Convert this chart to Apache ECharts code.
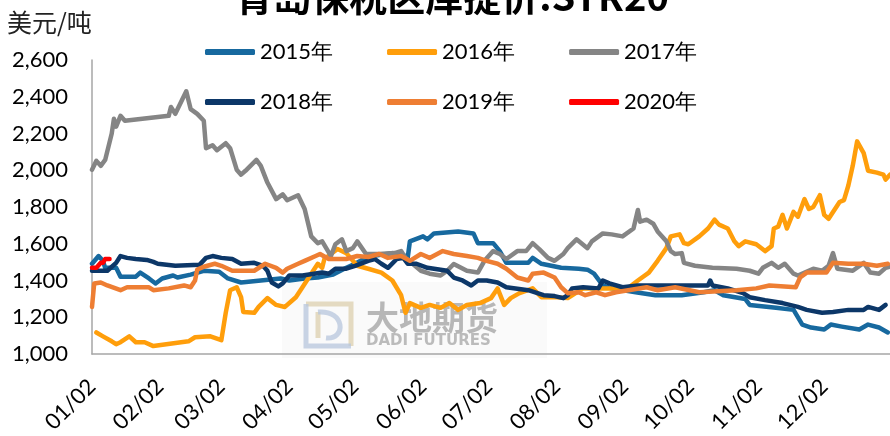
<!DOCTYPE html>
<html>
<head>
<meta charset="utf-8">
<script src="https://cdn.jsdelivr.net/npm/echarts@6/dist/echarts.min.js"></script>
<style>
  html, body { margin: 0; padding: 0; background: #fff; }
  #chart { width: 890px; height: 436px; }
</style>
</head>
<body>
<div id="chart"></div>
<script>
// Qingdao bonded-zone STR20 warehouse price, one line per year.
// x = trading day index counted from Jan 2 (category axis of calendar days).
const titleText = '青岛保税区库提价:STR20';
const unitText = '美元/吨';
const yTicks = { min: 1000, max: 2600, step: 200 };
const seriesNames = ['2015年', '2016年', '2017年', '2018年', '2019年', '2020年'];
const seriesColors = ['#17699F', '#FF9E0B', '#858585', '#0C3768', '#EE7E33', '#FF0000'];

const y2015 = [[0,1491],[3,1533],[5,1507],[6,1469],[11,1469],[13,1421],[20,1421],[22,1443],[26,1411],[29,1384],[32,1411],[37,1427],[39,1416],[45,1432],[51,1453],[58,1448],[62,1411],[68,1389],[77,1400],[86,1411],[90,1400],[97,1411],[103,1416],[110,1432],[116,1469],[120,1491],[124,1517],[128,1533],[137,1549],[142,1539],[144,1523],[145,1613],[151,1640],[153,1624],[156,1656],[167,1667],[174,1656],[176,1603],[183,1603],[186,1560],[189,1496],[199,1496],[201,1523],[205,1491],[214,1469],[222,1464],[226,1459],[229,1437],[233,1373],[237,1357],[248,1336],[257,1320],[269,1320],[279,1336],[284,1347],[288,1320],[298,1299],[300,1267],[312,1251],[320,1240],[324,1160],[328,1144],[334,1133],[337,1160],[342,1149],[350,1133],[354,1160],[359,1144],[363,1117]];

const y2016 = [[2,1117],[5,1096],[9,1069],[11,1053],[13,1064],[17,1096],[20,1064],[24,1064],[28,1043],[44,1069],[47,1091],[54,1096],[59,1075],[61,1224],[63,1347],[66,1363],[68,1309],[69,1229],[74,1224],[76,1256],[80,1304],[84,1267],[88,1256],[93,1309],[96,1363],[100,1437],[103,1491],[105,1469],[106,1517],[109,1544],[112,1571],[116,1549],[121,1480],[126,1464],[132,1443],[137,1400],[141,1320],[143,1224],[145,1277],[150,1251],[154,1267],[159,1251],[163,1277],[167,1240],[171,1267],[177,1277],[182,1304],[185,1357],[188,1267],[191,1304],[195,1331],[201,1357],[205,1309],[212,1309],[217,1304],[224,1357],[239,1357],[245,1363],[249,1400],[254,1443],[258,1507],[262,1576],[264,1640],[268,1651],[270,1603],[272,1597],[277,1640],[281,1683],[284,1731],[286,1704],[290,1683],[293,1613],[295,1587],[298,1613],[303,1597],[307,1560],[310,1587],[311,1683],[313,1693],[315,1757],[317,1683],[320,1773],[322,1747],[325,1843],[327,1789],[329,1800],[332,1864],[334,1757],[336,1736],[341,1827],[343,1837],[345,1917],[347,2024],[349,2157],[352,2093],[354,1997],[358,1987],[361,1976],[362,1949],[364,1976]];

const y2017 = [[0,2003],[2,2051],[4,2024],[6,2056],[9,2200],[10,2280],[11,2237],[13,2296],[15,2269],[35,2296],[36,2344],[38,2307],[43,2430],[45,2333],[48,2307],[51,2269],[52,2120],[55,2136],[57,2109],[61,2147],[63,2120],[66,2003],[68,1976],[70,1997],[75,2056],[77,2024],[80,1933],[84,1843],[87,1869],[89,1837],[94,1864],[97,1789],[100,1640],[103,1603],[105,1613],[109,1533],[111,1597],[114,1624],[116,1560],[119,1576],[121,1613],[125,1544],[131,1544],[138,1549],[141,1560],[143,1523],[150,1453],[154,1437],[159,1427],[162,1453],[165,1490],[171,1453],[176,1443],[179,1507],[183,1560],[186,1544],[189,1517],[194,1560],[198,1560],[201,1603],[204,1571],[208,1523],[211,1507],[215,1544],[217,1576],[221,1624],[226,1576],[228,1613],[233,1656],[237,1651],[242,1640],[247,1683],[249,1784],[250,1720],[253,1731],[256,1709],[258,1667],[262,1613],[264,1560],[266,1544],[269,1549],[270,1496],[275,1480],[283,1469],[294,1464],[300,1453],[304,1437],[306,1469],[310,1496],[313,1469],[316,1491],[320,1437],[322,1427],[329,1464],[333,1453],[336,1480],[338,1549],[340,1464],[347,1453],[352,1496],[355,1443],[359,1437],[362,1469],[364,1475]];

const y2018 = [[0,1453],[7,1453],[11,1496],[13,1533],[16,1523],[20,1517],[25,1512],[28,1501],[30,1491],[38,1480],[49,1485],[52,1523],[55,1533],[59,1523],[64,1517],[68,1491],[74,1496],[78,1480],[80,1453],[82,1389],[85,1368],[87,1384],[90,1427],[96,1427],[105,1443],[108,1437],[111,1464],[116,1464],[120,1480],[126,1507],[129,1517],[132,1491],[135,1469],[139,1517],[142,1523],[144,1491],[148,1491],[153,1469],[162,1453],[165,1416],[169,1400],[173,1373],[176,1400],[180,1400],[185,1389],[189,1363],[199,1347],[206,1320],[211,1315],[215,1304],[217,1320],[219,1357],[224,1363],[231,1357],[233,1400],[236,1384],[242,1363],[249,1373],[265,1373],[281,1373],[282,1400],[283,1373],[290,1357],[297,1331],[300,1309],[307,1293],[315,1277],[322,1256],[326,1240],[333,1224],[338,1229],[345,1240],[352,1240],[354,1256],[359,1240],[362,1267]];

const y2019 = [[0,1256],[1,1384],[4,1389],[7,1373],[13,1347],[16,1363],[26,1363],[28,1347],[35,1357],[42,1373],[45,1363],[47,1400],[48,1459],[51,1475],[56,1491],[59,1480],[64,1453],[74,1453],[79,1491],[84,1469],[87,1443],[89,1464],[94,1491],[97,1507],[102,1533],[104,1544],[108,1517],[116,1517],[121,1533],[126,1528],[131,1544],[135,1523],[141,1533],[145,1507],[150,1544],[154,1523],[160,1560],[165,1544],[171,1533],[176,1523],[180,1507],[185,1491],[189,1464],[194,1416],[199,1400],[201,1437],[206,1443],[211,1416],[214,1363],[217,1331],[222,1336],[225,1320],[230,1336],[234,1320],[239,1336],[253,1363],[258,1347],[266,1363],[277,1336],[294,1347],[303,1357],[309,1373],[321,1363],[323,1416],[326,1443],[335,1443],[338,1496],[345,1491],[352,1491],[358,1480],[363,1491]];

const y2020 = [[0,1469],[2,1469],[4,1496],[5,1496],[6,1517],[8,1517]];

const yearData = [y2015, y2016, y2017, y2018, y2019, y2020];

// Calendar days of a non-leap year, Jan 2 through Jan 1, labelled MM/DD.
const days = [];
for (let i = 0; i < 365; i++) {
  const dt = new Date(Date.UTC(2019, 0, 2 + i));
  const mm = String(dt.getUTCMonth() + 1).padStart(2, '0');
  const dd = String(dt.getUTCDate()).padStart(2, '0');
  days.push(mm + '/' + dd);
}

const baseFont = 'Lato';

const chart = echarts.init(document.getElementById('chart'), null, { renderer: 'canvas' });

const legendCommon = {
  left: 200,
  itemWidth: 50,
  itemHeight: 6,
  itemGap: 54,
  icon: 'roundRect',
  textStyle: { fontFamily: baseFont, fontSize: 22, color: '#000' }
};

const markStroke = (color) => ({ stroke: color, lineWidth: 5, fill: null, opacity: 0.75 });

chart.setOption({
  backgroundColor: '#ffffff',
  animation: false,
  grid: { left: 92, right: 0, top: 60, bottom: 76, containLabel: false },
  legend: [
    Object.assign({ top: 36, data: seriesNames.slice(0, 3) }, legendCommon),
    Object.assign({ top: 86, data: seriesNames.slice(3, 6) }, legendCommon)
  ],
  xAxis: {
    type: 'category',
    data: days,
    boundaryGap: false,
    axisLine: { lineStyle: { color: '#A6A6A6', width: 1.5 } },
    axisTick: { show: false },
    splitLine: { show: false },
    axisLabel: {
      interval: (idx, val) => val.endsWith('/02'),
      rotate: 45,
      margin: 29,
      fontFamily: baseFont,
      fontSize: 22,
      color: '#000'
    }
  },
  yAxis: {
    type: 'value',
    min: yTicks.min,
    max: yTicks.max,
    interval: yTicks.step,
    axisLine: { show: true, lineStyle: { color: '#A6A6A6', width: 1.5 } },
    axisTick: { show: false },
    splitLine: { show: false },
    axisLabel: {
      margin: 24,
      fontFamily: baseFont,
      fontSize: 22,
      color: '#000',
      formatter: v => v.toLocaleString('en-US')
    }
  },
  graphic: [
    {
      type: 'text', z: 10,
      style: {
        text: titleText, x: 452, y: -3,
        font: 'bold 38px "Noto Sans CJK SC"',
        textAlign: 'center', textVerticalAlign: 'middle',
        align: 'center', verticalAlign: 'middle',
        fill: '#000'
      }
    },
    {
      type: 'text', z: 10,
      style: {
        text: unitText, x: 7, y: 22,
        font: '25px "Noto Sans CJK SC"',
        textAlign: 'left', textVerticalAlign: 'middle',
        align: 'left', verticalAlign: 'middle',
        fill: '#222'
      }
    },
    // company watermark under the lines
    {
      type: 'group', z: 1, silent: true,
      children: [
        { type: 'rect', shape: { x: 282, y: 282, width: 265, height: 76 }, style: { fill: 'rgba(0,0,0,0.018)' } },
        { type: 'polyline', shape: { points: [[306, 304], [351, 304], [351, 346]] }, style: markStroke('#DCCFAE') },
        { type: 'polyline', shape: { points: [[306, 304], [306, 346], [351, 346]] }, style: markStroke('#B7C6DC') },
        { type: 'line', shape: { x1: 318, y1: 312, x2: 318, y2: 338 }, style: markStroke('#DCCFAE') },
        { type: 'bezierCurve', shape: { x1: 318, y1: 312, cpx1: 346, cpy1: 310, cpx2: 346, cpy2: 340, x2: 326, y2: 338 },
          style: markStroke('#B7C6DC') },
        { type: 'text', style: { text: '大地期货', x: 366, y: 317, font: 'bold 33px "Noto Sans CJK SC"',
            textVerticalAlign: 'middle', verticalAlign: 'middle', fill: '#A6A6A6', opacity: 0.8 } },
        { type: 'text', style: { text: 'DADI FUTURES', x: 366, y: 341, font: 'bold 15px "DejaVu Sans"',
            textVerticalAlign: 'middle', verticalAlign: 'middle', fill: '#ABABAB', opacity: 0.8 } }
      ]
    }
  ],
  series: seriesNames.map((name, i) => ({
    name: name,
    type: 'line',
    data: yearData[i],
    symbol: 'none',
    smooth: false,
    z: 3 + i,
    color: seriesColors[i],
    lineStyle: { width: 4.5, color: seriesColors[i], cap: 'round', join: 'round' }
  }))
});
</script>
</body>
</html>
